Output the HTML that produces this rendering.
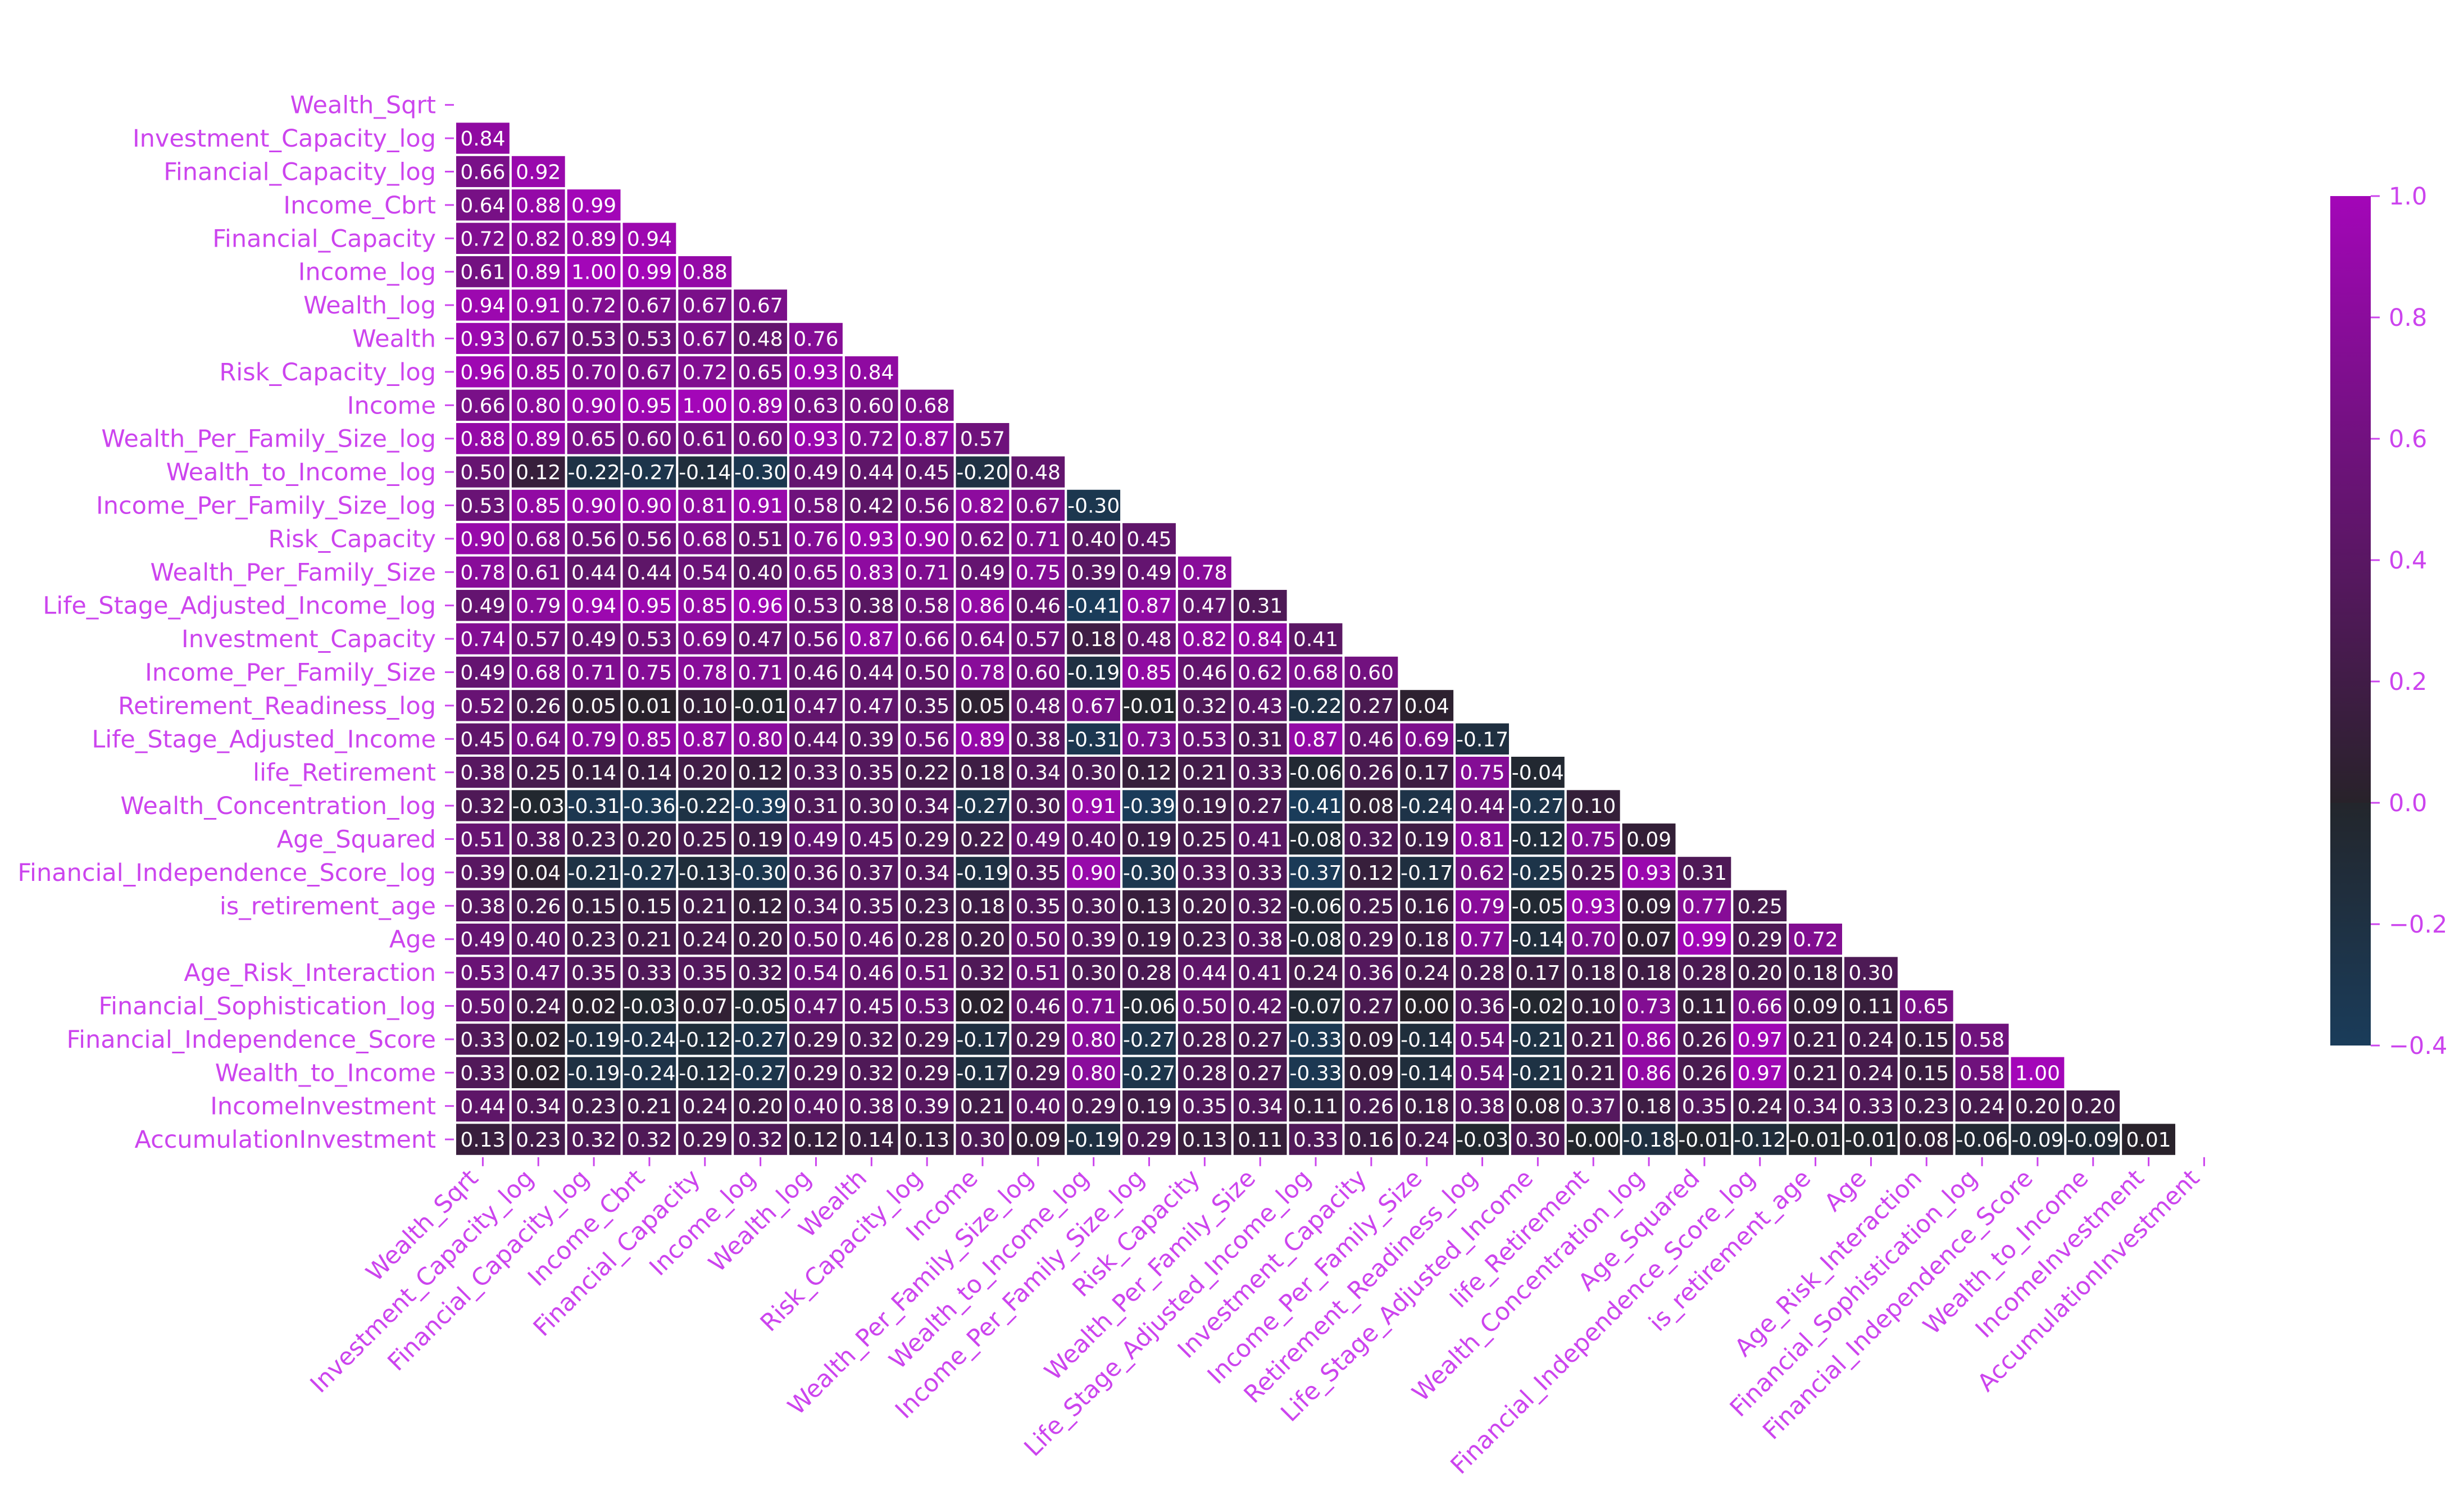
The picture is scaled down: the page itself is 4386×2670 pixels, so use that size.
<!DOCTYPE html>
<html><head><meta charset="utf-8"><style>
html,body{margin:0;padding:0;background:#fff;}
svg{display:block;}
text{font-family:"DejaVu Sans","Liberation Sans",sans-serif;}
</style></head><body>
<svg id="chart" width="4386" height="2670" viewBox="0 0 4386 2670">
<defs><linearGradient id="cbgrad" x1="0" y1="1" x2="0" y2="0">
<stop offset="0" stop-color="#1a3c5a"/><stop offset="0.2857" stop-color="#23262c"/><stop offset="0.2857" stop-color="#28222a"/><stop offset="1" stop-color="#a306b8"/>
</linearGradient></defs>
<g id="cells"></g><g id="ylabels"></g><g id="xlabels"></g><g id="cbar"></g>
</svg>
<script>
const labels = ["Wealth_Sqrt","Investment_Capacity_log","Financial_Capacity_log","Income_Cbrt","Financial_Capacity","Income_log","Wealth_log","Wealth","Risk_Capacity_log","Income","Wealth_Per_Family_Size_log","Wealth_to_Income_log","Income_Per_Family_Size_log","Risk_Capacity","Wealth_Per_Family_Size","Life_Stage_Adjusted_Income_log","Investment_Capacity","Income_Per_Family_Size","Retirement_Readiness_log","Life_Stage_Adjusted_Income","life_Retirement","Wealth_Concentration_log","Age_Squared","Financial_Independence_Score_log","is_retirement_age","Age","Age_Risk_Interaction","Financial_Sophistication_log","Financial_Independence_Score","Wealth_to_Income","IncomeInvestment","AccumulationInvestment"];
const corr = [
[],
[0.84],
[0.66,0.92],
[0.64,0.88,0.99],
[0.72,0.82,0.89,0.94],
[0.61,0.89,1.00,0.99,0.88],
[0.94,0.91,0.72,0.67,0.67,0.67],
[0.93,0.67,0.53,0.53,0.67,0.48,0.76],
[0.96,0.85,0.70,0.67,0.72,0.65,0.93,0.84],
[0.66,0.80,0.90,0.95,1.00,0.89,0.63,0.60,0.68],
[0.88,0.89,0.65,0.60,0.61,0.60,0.93,0.72,0.87,0.57],
[0.50,0.12,-0.22,-0.27,-0.14,-0.30,0.49,0.44,0.45,-0.20,0.48],
[0.53,0.85,0.90,0.90,0.81,0.91,0.58,0.42,0.56,0.82,0.67,-0.30],
[0.90,0.68,0.56,0.56,0.68,0.51,0.76,0.93,0.90,0.62,0.71,0.40,0.45],
[0.78,0.61,0.44,0.44,0.54,0.40,0.65,0.83,0.71,0.49,0.75,0.39,0.49,0.78],
[0.49,0.79,0.94,0.95,0.85,0.96,0.53,0.38,0.58,0.86,0.46,-0.41,0.87,0.47,0.31],
[0.74,0.57,0.49,0.53,0.69,0.47,0.56,0.87,0.66,0.64,0.57,0.18,0.48,0.82,0.84,0.41],
[0.49,0.68,0.71,0.75,0.78,0.71,0.46,0.44,0.50,0.78,0.60,-0.19,0.85,0.46,0.62,0.68,0.60],
[0.52,0.26,0.05,0.01,0.10,-0.01,0.47,0.47,0.35,0.05,0.48,0.67,-0.01,0.32,0.43,-0.22,0.27,0.04],
[0.45,0.64,0.79,0.85,0.87,0.80,0.44,0.39,0.56,0.89,0.38,-0.31,0.73,0.53,0.31,0.87,0.46,0.69,-0.17],
[0.38,0.25,0.14,0.14,0.20,0.12,0.33,0.35,0.22,0.18,0.34,0.30,0.12,0.21,0.33,-0.06,0.26,0.17,0.75,-0.04],
[0.32,-0.03,-0.31,-0.36,-0.22,-0.39,0.31,0.30,0.34,-0.27,0.30,0.91,-0.39,0.19,0.27,-0.41,0.08,-0.24,0.44,-0.27,0.10],
[0.51,0.38,0.23,0.20,0.25,0.19,0.49,0.45,0.29,0.22,0.49,0.40,0.19,0.25,0.41,-0.08,0.32,0.19,0.81,-0.12,0.75,0.09],
[0.39,0.04,-0.21,-0.27,-0.13,-0.30,0.36,0.37,0.34,-0.19,0.35,0.90,-0.30,0.33,0.33,-0.37,0.12,-0.17,0.62,-0.25,0.25,0.93,0.31],
[0.38,0.26,0.15,0.15,0.21,0.12,0.34,0.35,0.23,0.18,0.35,0.30,0.13,0.20,0.32,-0.06,0.25,0.16,0.79,-0.05,0.93,0.09,0.77,0.25],
[0.49,0.40,0.23,0.21,0.24,0.20,0.50,0.46,0.28,0.20,0.50,0.39,0.19,0.23,0.38,-0.08,0.29,0.18,0.77,-0.14,0.70,0.07,0.99,0.29,0.72],
[0.53,0.47,0.35,0.33,0.35,0.32,0.54,0.46,0.51,0.32,0.51,0.30,0.28,0.44,0.41,0.24,0.36,0.24,0.28,0.17,0.18,0.18,0.28,0.20,0.18,0.30],
[0.50,0.24,0.02,-0.03,0.07,-0.05,0.47,0.45,0.53,0.02,0.46,0.71,-0.06,0.50,0.42,-0.07,0.27,0.00,0.36,-0.02,0.10,0.73,0.11,0.66,0.09,0.11,0.65],
[0.33,0.02,-0.19,-0.24,-0.12,-0.27,0.29,0.32,0.29,-0.17,0.29,0.80,-0.27,0.28,0.27,-0.33,0.09,-0.14,0.54,-0.21,0.21,0.86,0.26,0.97,0.21,0.24,0.15,0.58],
[0.33,0.02,-0.19,-0.24,-0.12,-0.27,0.29,0.32,0.29,-0.17,0.29,0.80,-0.27,0.28,0.27,-0.33,0.09,-0.14,0.54,-0.21,0.21,0.86,0.26,0.97,0.21,0.24,0.15,0.58,1.00],
[0.44,0.34,0.23,0.21,0.24,0.20,0.40,0.38,0.39,0.21,0.40,0.29,0.19,0.35,0.34,0.11,0.26,0.18,0.38,0.08,0.37,0.18,0.35,0.24,0.34,0.33,0.23,0.24,0.20,0.20],
[0.13,0.23,0.32,0.32,0.29,0.32,0.12,0.14,0.13,0.30,0.09,-0.19,0.29,0.13,0.11,0.33,0.16,0.24,-0.03,0.30,-0.001,-0.18,-0.01,-0.12,-0.01,-0.01,0.08,-0.06,-0.09,-0.09,0.01]
];
const cbTicks = [1.0,0.8,0.6,0.4,0.2,0.0,-0.2,-0.4];

const NS="http://www.w3.org/2000/svg";
const X0=810, Y0=157, CW=98.84, CH=59.4, N=labels.length;
const LAB="#cc44ee";
const VMIN=-0.4, VMAX=1.0, CBY0=349, CBY1=1861, CBX=4148, CBW=72;
function xs(i){return X0+i*CW;}
function ys(i){return Y0+i*CH;}
function cbY(v){return CBY1-(v-VMIN)/(VMAX-VMIN)*(CBY1-CBY0);}
function lerp(a,b,t){return a.map((x,k)=>Math.round(x+(b[k]-x)*t));}
function color(v){
  let c;
  if(v>=0) c=lerp([40,34,42],[163,6,184],Math.min(v,1));
  else c=lerp([35,38,44],[26,60,90],Math.min(-v/0.4,1));
  return `rgb(${c[0]},${c[1]},${c[2]})`;
}
function fmt(v){return (v<0?'-':'')+Math.abs(v).toFixed(2);}
function mk(tag,attrs,parent){const e=document.createElementNS(NS,tag);for(const k in attrs)e.setAttribute(k,attrs[k]);parent.appendChild(e);return e;}
const gCells=document.getElementById('cells'), gY=document.getElementById('ylabels'), gX=document.getElementById('xlabels'), gC=document.getElementById('cbar');
corr.forEach((row,i)=>{
  row.forEach((v,j)=>{
    const r=mk('rect',{x:xs(j),y:ys(i),width:CW,height:CH,fill:color(v),stroke:'#fff','stroke-width':4},gCells);
    
    
    const t=mk('text',{x:xs(j)+CW/2,y:ys(i)+CH/2+13,'text-anchor':'middle','font-size':36,fill:'#fff'},gCells);
    t.textContent=fmt(v);
    
    
  });
});
labels.forEach((l,i)=>{
  const cy=ys(i)+CH/2;
  mk('line',{x1:792,x2:808,y1:cy,y2:cy,stroke:LAB,'stroke-width':3},gY);
  const t=mk('text',{x:776,y:cy+15,'text-anchor':'end','font-size':43,fill:LAB},gY);
  t.textContent=l;
  
  
  const cx=xs(i)+CW/2, by=Y0+N*CH;
  mk('line',{x1:cx,x2:cx,y1:by+2,y2:by+18,stroke:LAB,'stroke-width':3},gX);
  const ax=cx-6, ay=by+42;
  const tx=mk('text',{x:ax,y:ay,'text-anchor':'end','font-size':43,fill:LAB,transform:`rotate(-45 ${ax} ${ay})`},gX);
  tx.textContent=l;
  
  
});
const bar=mk('rect',{x:CBX,y:CBY0,width:CBW,height:CBY1-CBY0,fill:'url(#cbgrad)'},gC);


cbTicks.forEach(v=>{
  const y=cbY(v);
  mk('line',{x1:CBX+CBW,x2:CBX+CBW+16,y1:y,y2:y,stroke:LAB,'stroke-width':3},gC);
  const t=mk('text',{x:CBX+CBW+32,y:y+15,'font-size':43,fill:LAB},gC);
  t.textContent=(v<0?'\u2212':'')+Math.abs(v).toFixed(1);
  
  
});
</script>
</body></html>
